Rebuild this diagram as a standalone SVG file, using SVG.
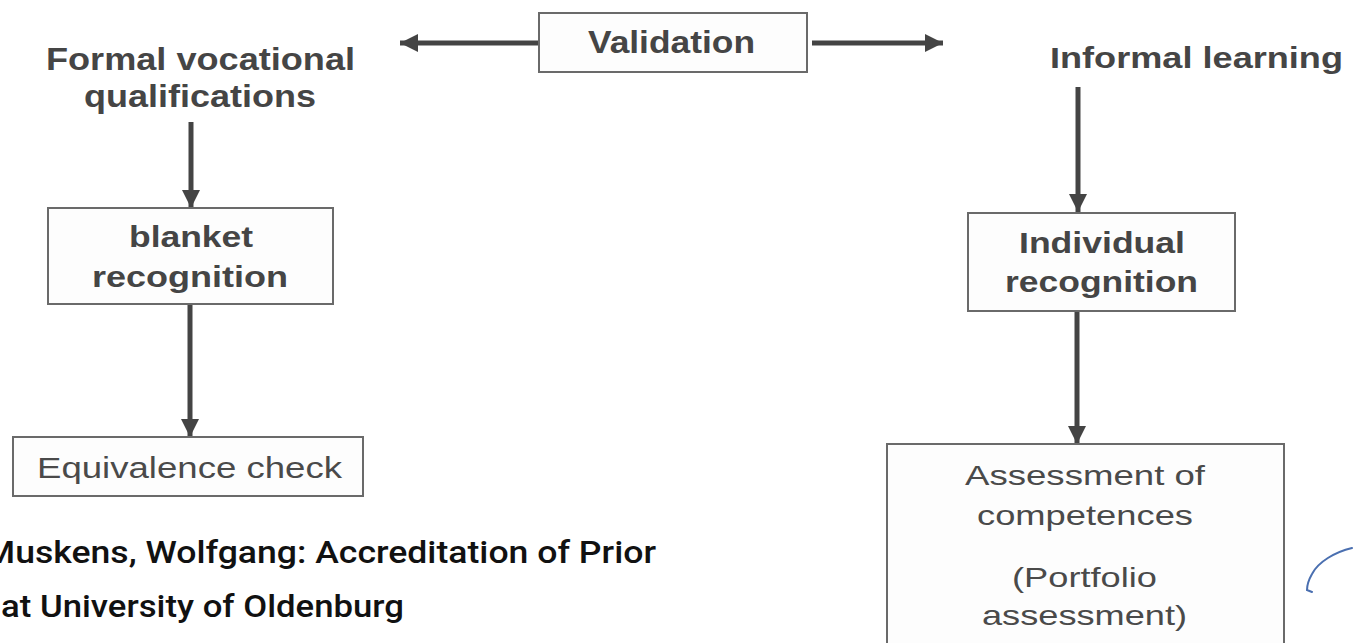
<svg xmlns="http://www.w3.org/2000/svg" width="1353" height="643" viewBox="0 0 1353 643">
  <style>
    .box { fill: #fdfdfd; stroke: #6a6a6a; stroke-width: 2; }
    .b { font-family: "Liberation Sans", Arial, sans-serif; font-weight: bold; fill: #454545; }
    .r { font-family: "Liberation Sans", Arial, sans-serif; font-weight: normal; fill: #4a4a4a; }
    .conn { stroke: #444; stroke-width: 5; fill: none; marker-end: url(#ah); }
    .foot { font-family: Roboto, "Noto Sans", sans-serif; font-weight: 500; fill: #111; font-size: 32px; }
  </style>
  <defs>
    <marker id="ah" markerUnits="userSpaceOnUse" markerWidth="20" markerHeight="20" refX="18" refY="10" orient="auto">
      <path d="M0,1 L18,10 L0,19 z" fill="#444"/>
    </marker>
  </defs>
  <rect width="1353" height="643" fill="#ffffff"/>

  <g id="connectors">
    <line class="conn" x1="539" y1="43" x2="400" y2="43"/>
    <line class="conn" x1="812" y1="43" x2="943" y2="43"/>
    <line class="conn" x1="191" y1="122" x2="191" y2="208"/>
    <line class="conn" x1="190" y1="304" x2="190" y2="437"/>
    <line class="conn" x1="1078" y1="87" x2="1078" y2="212"/>
    <line class="conn" x1="1077" y1="312" x2="1077" y2="444"/>
  </g>

  <g id="formal">
    <text class="b" font-size="31" x="46" y="70" textLength="309" lengthAdjust="spacingAndGlyphs">Formal vocational</text>
    <text class="b" font-size="31" x="84" y="107" textLength="232" lengthAdjust="spacingAndGlyphs">qualifications</text>
  </g>

  <g id="validation">
    <rect class="box" x="539" y="13" width="268" height="59"/>
    <text class="b" font-size="31" x="588" y="53" textLength="167" lengthAdjust="spacingAndGlyphs" fill="#505050">Validation</text>
  </g>

  <g id="informal">
    <text class="b" font-size="30" x="1050" y="68" textLength="293" lengthAdjust="spacingAndGlyphs">Informal learning</text>
  </g>

  <g id="blanket">
    <rect class="box" x="48" y="208" width="285" height="96"/>
    <text class="b" font-size="29" x="129" y="247" textLength="124" lengthAdjust="spacingAndGlyphs">blanket</text>
    <text class="b" font-size="29" x="92" y="287" textLength="196" lengthAdjust="spacingAndGlyphs">recognition</text>
  </g>

  <g id="individual">
    <rect class="box" x="968" y="213" width="267" height="98"/>
    <text class="b" font-size="29" x="1019" y="253" textLength="166" lengthAdjust="spacingAndGlyphs">Individual</text>
    <text class="b" font-size="29" x="1005" y="292" textLength="193" lengthAdjust="spacingAndGlyphs">recognition</text>
  </g>

  <g id="equivalence">
    <rect class="box" x="13" y="437" width="350" height="59"/>
    <text class="r" font-size="29" x="37" y="478" textLength="305" lengthAdjust="spacingAndGlyphs" fill="#555">Equivalence check</text>
  </g>

  <g id="assessment">
    <rect class="box" x="887" y="444" width="397" height="210"/>
    <text class="r" font-size="28" x="965" y="485" textLength="240" lengthAdjust="spacingAndGlyphs">Assessment of</text>
    <text class="r" font-size="28" x="977" y="525" textLength="216" lengthAdjust="spacingAndGlyphs">competences</text>
    <text class="r" font-size="28" x="1012" y="587" textLength="145" lengthAdjust="spacingAndGlyphs">(Portfolio</text>
    <text class="r" font-size="28" x="982" y="625" textLength="205" lengthAdjust="spacingAndGlyphs">assessment)</text>
  </g>

  <path d="M1352,548 C1335,552 1318,562 1312,574 C1308,581 1307,587 1307,590 L1312,592" fill="none" stroke="#4a6fb0" stroke-width="2" stroke-linecap="round"/>

  <g id="caption">
    <text class="foot" x="-16" y="563" textLength="672" lengthAdjust="spacingAndGlyphs">Muskens, Wolfgang: Accreditation of Prior</text>
    <text class="foot" x="1" y="617" textLength="403" lengthAdjust="spacingAndGlyphs">at University of Oldenburg</text>
  </g>
</svg>
